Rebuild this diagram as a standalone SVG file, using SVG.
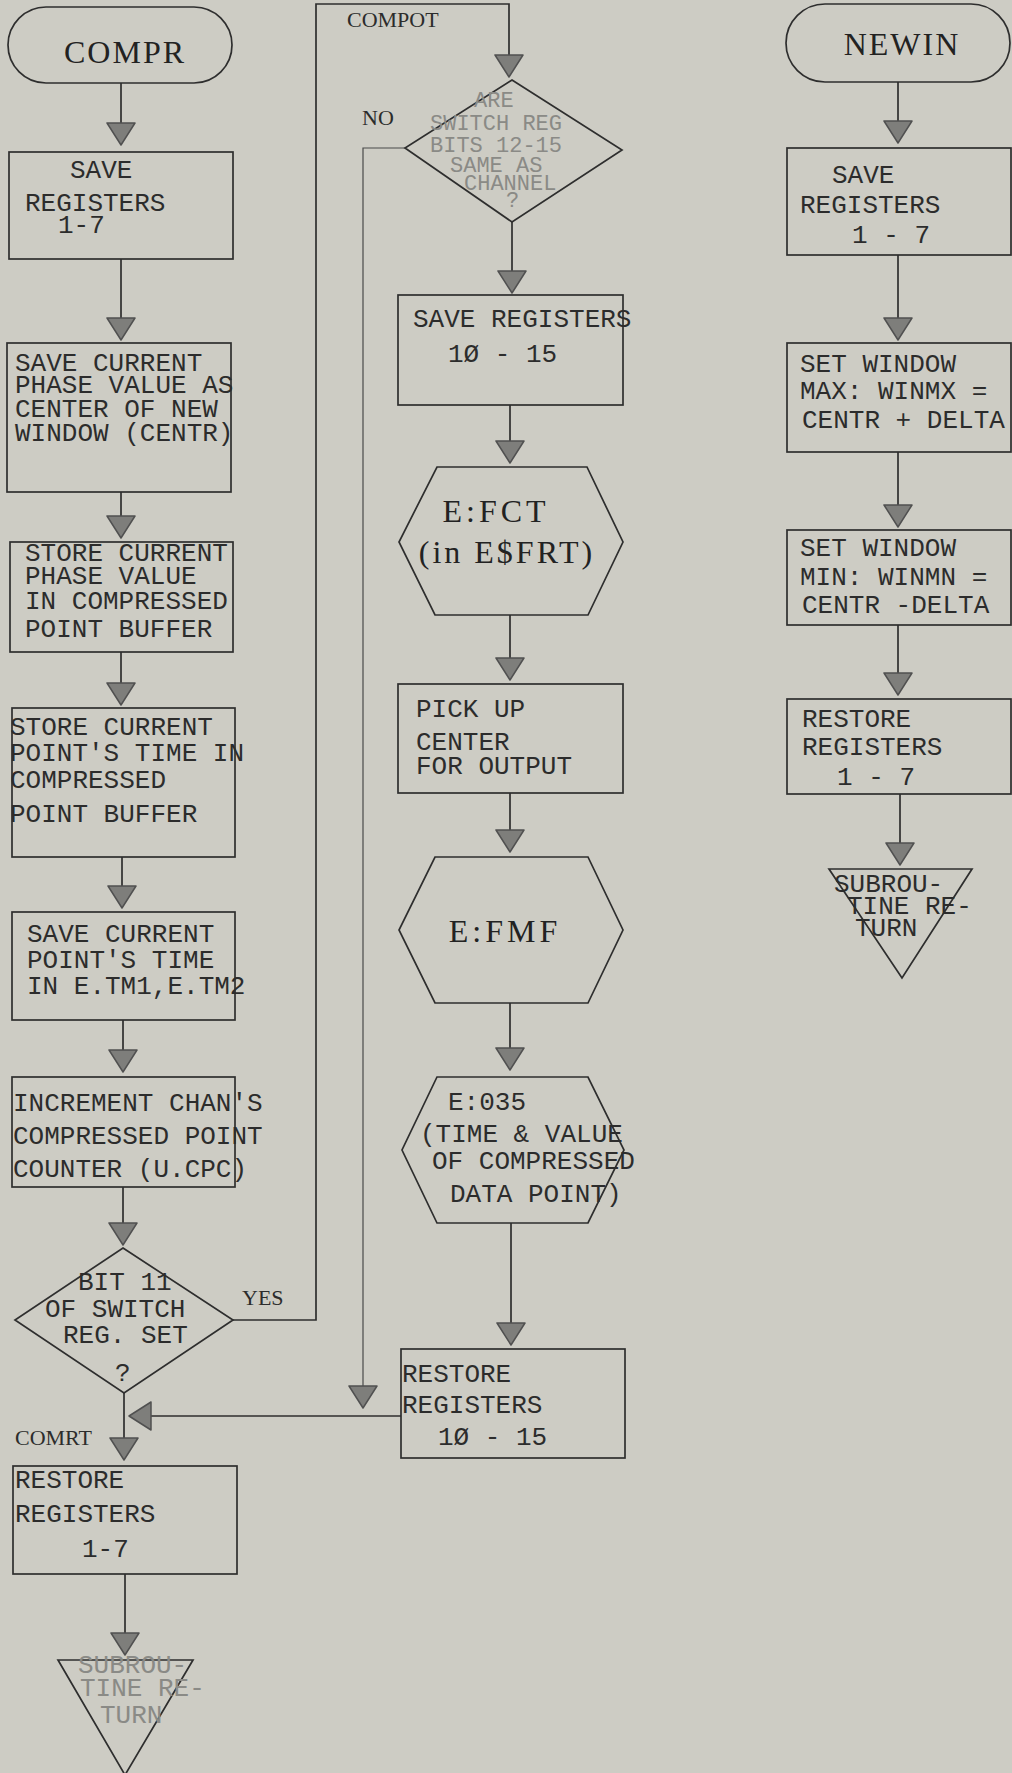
<svg xmlns="http://www.w3.org/2000/svg" width="1012" height="1773" viewBox="0 0 1012 1773">
<style>
.bg{fill:#cdccc4}
.n{fill:none;stroke:#2e2e2e;stroke-width:1.7}
.c{fill:none;stroke:#2e2e2e;stroke-width:1.7}
.thin{fill:none;stroke:#4a4a4a;stroke-width:1.2}
.t{font-family:"Liberation Mono",monospace;font-size:26px;fill:#2c2c2c}
.d{font-family:"Liberation Mono",monospace;font-size:22px;fill:#8a8a86}
.f{fill:#8a8a86}
.lbl{font-family:"Liberation Serif",serif;font-size:22px;fill:#2c2c2c}
.big{font-family:"Liberation Serif",serif;font-size:32px;fill:#222}
</style>
<defs>
<marker id="ah" markerUnits="userSpaceOnUse" markerWidth="26" markerHeight="30" viewBox="-1 -1 26 30" refX="22" refY="14" orient="auto" overflow="visible">
<path d="M0,0 L22,14 L0,28 Z" fill="#7e7e7b" stroke="#505050" stroke-width="1.5" stroke-linejoin="round"/>
</marker>
</defs>
<rect class="bg" x="0" y="0" width="1012" height="1773"/>

<g id="connectors">
<path class="c" d="M121,83 V145" marker-end="url(#ah)"/>
<path class="c" d="M121,259 V340" marker-end="url(#ah)"/>
<path class="c" d="M121,492 V538" marker-end="url(#ah)"/>
<path class="c" d="M121,652 V705" marker-end="url(#ah)"/>
<path class="c" d="M122,857 V908" marker-end="url(#ah)"/>
<path class="c" d="M123,1020 V1072" marker-end="url(#ah)"/>
<path class="c" d="M123,1187 V1245" marker-end="url(#ah)"/>
<path class="c" d="M124,1393 V1460" marker-end="url(#ah)"/>
<path class="c" d="M401,1416 H129" marker-end="url(#ah)"/>
<path class="c" d="M125,1574 V1655" marker-end="url(#ah)"/>
<path class="c" d="M233,1320 H316 V4 H509 V77" marker-end="url(#ah)"/>
<path class="thin" d="M405,148 H363 V1408" marker-end="url(#ah)"/>
<path class="c" d="M512,222 V293" marker-end="url(#ah)"/>
<path class="c" d="M510,405 V463" marker-end="url(#ah)"/>
<path class="c" d="M510,615 V680" marker-end="url(#ah)"/>
<path class="c" d="M510,793 V852" marker-end="url(#ah)"/>
<path class="c" d="M510,1003 V1070" marker-end="url(#ah)"/>
<path class="c" d="M511,1223 V1345" marker-end="url(#ah)"/>
<path class="c" d="M898,82 V143" marker-end="url(#ah)"/>
<path class="c" d="M898,255 V340" marker-end="url(#ah)"/>
<path class="c" d="M898,452 V527" marker-end="url(#ah)"/>
<path class="c" d="M898,625 V695" marker-end="url(#ah)"/>
<path class="c" d="M900,794 V865" marker-end="url(#ah)"/>
<text class="lbl" x="347" y="27">COMPOT</text>
<text class="lbl" x="362" y="125">NO</text>
<text class="lbl" x="242" y="1305">YES</text>
<text class="lbl" x="15" y="1445">COMRT</text>
</g>

<g id="compr">
<rect class="n" x="8" y="7" width="224" height="76" rx="38"/>
<text class="big" x="125" y="63" text-anchor="middle" letter-spacing="2">COMPR</text>
</g>
<g id="save_regs_1_7">
<rect class="n" x="9" y="152" width="224" height="107"/>
<text class="t" x="70" y="178">SAVE</text>
<text class="t" x="25" y="211">REGISTERS</text>
<text class="t" x="58" y="233">1-7</text>
</g>
<g id="save_phase">
<rect class="n" x="7" y="343" width="224" height="149"/>
<text class="t" x="15" y="371">SAVE CURRENT</text>
<text class="t" x="15" y="393">PHASE VALUE AS</text>
<text class="t" x="15" y="417">CENTER OF NEW</text>
<text class="t" x="15" y="441">WINDOW (CENTR)</text>
</g>
<g id="store_phase">
<rect class="n" x="10" y="542" width="223" height="110"/>
<text class="t" x="25" y="561">STORE CURRENT</text>
<text class="t" x="25" y="584">PHASE VALUE</text>
<text class="t" x="25" y="609">IN COMPRESSED</text>
<text class="t" x="25" y="637">POINT BUFFER</text>
</g>
<g id="store_time">
<rect class="n" x="12" y="708" width="223" height="149"/>
<text class="t" x="10" y="735">STORE CURRENT</text>
<text class="t" x="10" y="761">POINT'S TIME IN</text>
<text class="t" x="10" y="788">COMPRESSED</text>
<text class="t" x="10" y="822">POINT BUFFER</text>
</g>
<g id="save_time">
<rect class="n" x="12" y="912" width="223" height="108"/>
<text class="t" x="27" y="942">SAVE CURRENT</text>
<text class="t" x="27" y="968">POINT'S TIME</text>
<text class="t" x="27" y="994">IN E.TM1,E.TM2</text>
</g>
<g id="increment">
<rect class="n" x="12" y="1077" width="223" height="110"/>
<text class="t" x="13" y="1111">INCREMENT CHAN'S</text>
<text class="t" x="13" y="1144">COMPRESSED POINT</text>
<text class="t" x="13" y="1177">COUNTER (U.CPC)</text>
</g>
<g id="bit11">
<path class="n" d="M123,1248 L233,1320 L124,1393 L15,1320 Z"/>
<text class="t" x="78" y="1290">BIT 11</text>
<text class="t" x="45" y="1317">OF SWITCH</text>
<text class="t" x="63" y="1343">REG. SET</text>
<text class="t" x="115" y="1381">?</text>
</g>
<g id="restore_1_7_left">
<rect class="n" x="13" y="1466" width="224" height="108"/>
<text class="t" x="15" y="1488">RESTORE</text>
<text class="t" x="15" y="1522">REGISTERS</text>
<text class="t" x="82" y="1557">1-7</text>
</g>
<g id="return_left">
<path class="n" d="M58,1660 L193,1660 L125,1775 Z"/>
<text class="t f" x="78" y="1673" font-size="24">SUBROU-</text>
<text class="t f" x="80" y="1696" font-size="24">TINE RE-</text>
<text class="t f" x="100" y="1723" font-size="24">TURN</text>
</g>

<g id="switch_diamond">
<path class="n" d="M512,80 L622,150 L512,222 L405,148 Z"/>
<text class="d" x="474" y="107">ARE</text>
<text class="d" x="430" y="130">SWITCH REG</text>
<text class="d" x="430" y="152">BITS 12-15</text>
<text class="d" x="450" y="172">SAME AS</text>
<text class="d" x="464" y="190">CHANNEL</text>
<text class="d" x="506" y="207">?</text>
</g>
<g id="save_regs_10_15">
<rect class="n" x="398" y="295" width="225" height="110"/>
<text class="t" x="413" y="327">SAVE REGISTERS</text>
<text class="t" x="448" y="362">1Ø - 15</text>
</g>
<g id="efct">
<path class="n" d="M437,467 L587,467 L623,542 L588,615 L435,615 L399,542 Z"/>
<text class="big" x="496" y="522" text-anchor="middle" letter-spacing="4">E:FCT</text>
<text class="big" x="507" y="563" text-anchor="middle" letter-spacing="3">(in E$FRT)</text>
</g>
<g id="pickup">
<rect class="n" x="398" y="684" width="225" height="109"/>
<text class="t" x="416" y="717">PICK UP</text>
<text class="t" x="416" y="750">CENTER</text>
<text class="t" x="416" y="774">FOR OUTPUT</text>
</g>
<g id="efmf">
<path class="n" d="M435,857 L588,857 L623,930 L588,1003 L435,1003 L399,930 Z"/>
<text class="big" x="505" y="942" text-anchor="middle" letter-spacing="4">E:FMF</text>
</g>
<g id="e035">
<path class="n" d="M437,1077 L588,1077 L624,1150 L588,1223 L437,1223 L402,1150 Z"/>
<text class="t" x="448" y="1110">E:035</text>
<text class="t" x="420" y="1142">(TIME &amp; VALUE</text>
<text class="t" x="432" y="1169">OF COMPRESSED</text>
<text class="t" x="450" y="1202">DATA POINT)</text>
</g>
<g id="restore_10_15">
<rect class="n" x="401" y="1349" width="224" height="109"/>
<text class="t" x="402" y="1382">RESTORE</text>
<text class="t" x="402" y="1413">REGISTERS</text>
<text class="t" x="438" y="1445">1Ø - 15</text>
</g>

<g id="newin">
<rect class="n" x="786" y="4" width="224" height="78" rx="39"/>
<text class="big" x="902" y="55" text-anchor="middle" letter-spacing="2">NEWIN</text>
</g>
<g id="save_regs_right">
<rect class="n" x="787" y="148" width="224" height="107"/>
<text class="t" x="832" y="183">SAVE</text>
<text class="t" x="800" y="213">REGISTERS</text>
<text class="t" x="852" y="243">1 - 7</text>
</g>
<g id="set_max">
<rect class="n" x="787" y="343" width="224" height="109"/>
<text class="t" x="800" y="372">SET WINDOW</text>
<text class="t" x="800" y="399">MAX: WINMX =</text>
<text class="t" x="802" y="428">CENTR + DELTA</text>
</g>
<g id="set_min">
<rect class="n" x="787" y="530" width="224" height="95"/>
<text class="t" x="800" y="556">SET WINDOW</text>
<text class="t" x="800" y="585">MIN: WINMN =</text>
<text class="t" x="802" y="613">CENTR -DELTA</text>
</g>
<g id="restore_right">
<rect class="n" x="787" y="699" width="224" height="95"/>
<text class="t" x="802" y="727">RESTORE</text>
<text class="t" x="802" y="755">REGISTERS</text>
<text class="t" x="837" y="785">1 - 7</text>
</g>
<g id="return_right">
<path class="n" d="M829,869 L972,869 L902,978 Z"/>
<text class="t" x="834" y="892" font-size="25">SUBROU-</text>
<text class="t" x="847" y="914" font-size="25">TINE RE-</text>
<text class="t" x="855" y="936" font-size="25">TURN</text>
</g>
</svg>
